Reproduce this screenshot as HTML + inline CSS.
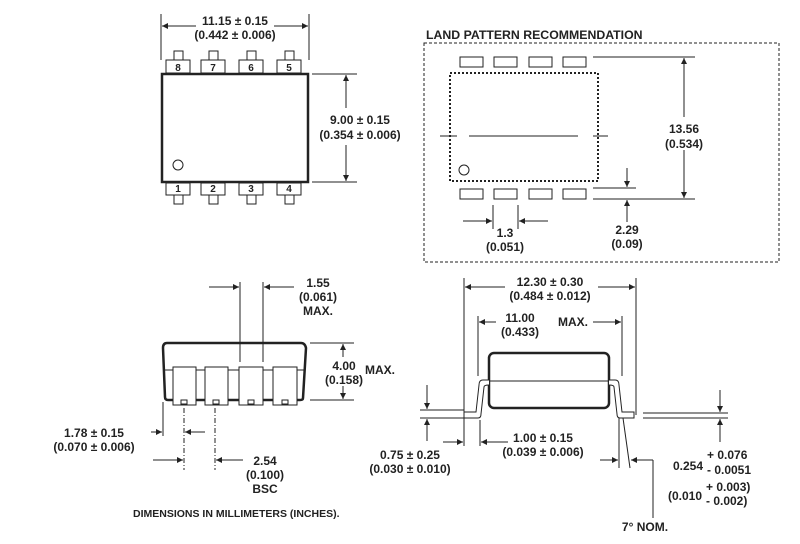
<!DOCTYPE html>
<html><head><style>
html,body{margin:0;padding:0;background:#fff}
svg{display:block}
text{font-family:"Liberation Sans",Arial,sans-serif;font-weight:bold;font-size:12px;fill:#222}
</style></head><body>
<svg width="800" height="544" viewBox="0 0 800 544" xmlns="http://www.w3.org/2000/svg">
<defs>
<marker id="a" viewBox="0 0 10 10" refX="10" refY="5" markerWidth="8" markerHeight="6" orient="auto" markerUnits="userSpaceOnUse"><path d="M0,0 L10,5 L0,10 z" fill="#222"/></marker>
</defs>
<g stroke="#222" fill="none" stroke-width="1">
<!-- TOP VIEW -->
<rect x="162" y="74" width="146" height="108" stroke-width="2.5"/>
<circle cx="178" cy="165" r="5"/>
<g fill="#fff">
<rect x="166" y="60" width="24" height="13"/><rect x="201" y="60" width="24" height="13"/><rect x="239" y="60" width="24" height="13"/><rect x="277" y="60" width="24" height="13"/>
<rect x="174" y="51" width="9" height="9"/><rect x="209" y="51" width="9" height="9"/><rect x="247" y="51" width="9" height="9"/><rect x="285" y="51" width="9" height="9"/>
<rect x="166" y="183" width="24" height="12"/><rect x="201" y="183" width="24" height="12"/><rect x="239" y="183" width="24" height="12"/><rect x="277" y="183" width="24" height="12"/>
<rect x="174" y="195" width="9" height="9"/><rect x="209" y="195" width="9" height="9"/><rect x="247" y="195" width="9" height="9"/><rect x="285" y="195" width="9" height="9"/>
</g>
<line x1="161" y1="14" x2="161" y2="60"/><line x1="309" y1="14" x2="309" y2="60"/>
<line x1="196" y1="26" x2="162" y2="26" marker-end="url(#a)"/><line x1="274" y1="26" x2="308" y2="26" marker-end="url(#a)"/>
<line x1="312" y1="74" x2="357" y2="74"/><line x1="312" y1="182" x2="357" y2="182"/>
<line x1="346" y1="108" x2="346" y2="75" marker-end="url(#a)"/><line x1="346" y1="145" x2="346" y2="181" marker-end="url(#a)"/>

<!-- LAND PATTERN -->
<rect x="424" y="43" width="355" height="219" stroke-dasharray="3,2"/>
<rect x="450" y="73" width="148" height="108" stroke-width="2" stroke-dasharray="2,2"/>
<rect x="460" y="57" width="23" height="10"/><rect x="494" y="57" width="23" height="10"/><rect x="529" y="57" width="23" height="10"/><rect x="563" y="57" width="23" height="10"/>
<rect x="460" y="189" width="23" height="10"/><rect x="494" y="189" width="23" height="10"/><rect x="529" y="189" width="23" height="10"/><rect x="563" y="189" width="23" height="10"/>
<line x1="440" y1="136" x2="457" y2="136"/><line x1="469" y1="136" x2="578" y2="136"/><line x1="593" y1="136" x2="608" y2="136"/>
<circle cx="464" cy="170" r="5"/>
<line x1="593" y1="57" x2="695" y2="57"/><line x1="593" y1="199" x2="695" y2="199"/><line x1="593" y1="188" x2="636" y2="188"/>
<line x1="684" y1="117" x2="684" y2="58" marker-end="url(#a)"/><line x1="684" y1="150" x2="684" y2="198" marker-end="url(#a)"/>
<line x1="627" y1="168" x2="627" y2="187" marker-end="url(#a)"/><line x1="627" y1="222" x2="627" y2="200" marker-end="url(#a)"/>
<line x1="493" y1="205" x2="493" y2="229"/><line x1="518" y1="205" x2="518" y2="229"/>
<line x1="463" y1="221" x2="492" y2="221" marker-end="url(#a)"/><line x1="548" y1="221" x2="519" y2="221" marker-end="url(#a)"/>

<!-- SIDE VIEW LEFT -->
<path d="M167,343 H301 Q305,343 306,348 L303,398 Q303,400 300,400 H168 Q165,400 165,397 L163,348 Q163,343 167,343 Z" stroke-width="2.5"/>
<line x1="164" y1="370" x2="304" y2="370"/>
<g fill="#fff">
<rect x="173" y="367" width="23" height="38"/><rect x="205" y="367" width="23" height="38"/><rect x="239" y="367" width="24" height="38"/><rect x="273" y="367" width="24" height="38"/>
</g>
<rect x="181" y="400" width="6" height="4"/><rect x="213" y="400" width="6" height="4"/><rect x="248" y="400" width="6" height="4"/><rect x="282" y="400" width="6" height="4"/>
<line x1="240" y1="282" x2="240" y2="362"/><line x1="263" y1="282" x2="263" y2="362"/>
<line x1="209" y1="287" x2="239" y2="287" marker-end="url(#a)"/><line x1="294" y1="287" x2="264" y2="287" marker-end="url(#a)"/>
<line x1="310" y1="343" x2="354" y2="343"/><line x1="310" y1="400" x2="354" y2="400"/>
<line x1="343" y1="357" x2="343" y2="344" marker-end="url(#a)"/><line x1="343" y1="386" x2="343" y2="399" marker-end="url(#a)"/>
<line x1="163" y1="402" x2="163" y2="436"/>
<line x1="184" y1="408" x2="184" y2="470" stroke-dasharray="5,2,1,2"/><line x1="215" y1="408" x2="215" y2="470" stroke-dasharray="5,2,1,2"/>
<line x1="151" y1="432" x2="162" y2="432" marker-end="url(#a)"/><line x1="205" y1="432" x2="185" y2="432" marker-end="url(#a)"/>
<line x1="153" y1="460" x2="183" y2="460" marker-end="url(#a)"/><line x1="243" y1="460" x2="216" y2="460" marker-end="url(#a)"/>

<!-- SIDE VIEW RIGHT -->
<rect x="489" y="353" width="120" height="55" rx="5" stroke-width="2.5"/>
<line x1="482" y1="381" x2="616" y2="381"/>
<path d="M489,380 L483,380 Q479,380 479,385 L476,412 L464,412 L464,418 L478,418 Q481,418 481,414 L484,387 Q484,385 489,385" fill="#fff"/>
<path d="M609,380 L615,380 Q619,380 619,385 L622,412 L634,412 L634,418 L620,418 Q617,418 617,414 L614,387 Q614,385 609,385" fill="#fff"/>
<line x1="420" y1="410" x2="464" y2="410"/><line x1="420" y1="418" x2="464" y2="418"/>
<line x1="643" y1="413" x2="728" y2="413"/><line x1="643" y1="418" x2="728" y2="418"/>
<line x1="427" y1="385" x2="427" y2="409" marker-end="url(#a)"/><line x1="427" y1="441" x2="427" y2="419" marker-end="url(#a)"/>
<line x1="720" y1="390" x2="720" y2="412" marker-end="url(#a)"/><line x1="720" y1="442" x2="720" y2="419" marker-end="url(#a)"/>
<line x1="464" y1="278" x2="464" y2="446"/><line x1="636" y1="278" x2="636" y2="415"/>
<line x1="505" y1="287" x2="465" y2="287" marker-end="url(#a)"/><line x1="598" y1="287" x2="635" y2="287" marker-end="url(#a)"/>
<line x1="478" y1="316" x2="478" y2="376"/><line x1="622" y1="316" x2="622" y2="376"/>
<line x1="496" y1="322" x2="479" y2="322" marker-end="url(#a)"/><line x1="593" y1="322" x2="621" y2="322" marker-end="url(#a)"/>
<line x1="480" y1="420" x2="480" y2="446"/>
<line x1="443" y1="442" x2="463" y2="442" marker-end="url(#a)"/><line x1="508" y1="442" x2="481" y2="442" marker-end="url(#a)"/>
<line x1="619" y1="418" x2="619" y2="468"/><line x1="623" y1="418" x2="630" y2="468"/>
<line x1="600" y1="460" x2="618" y2="460" marker-end="url(#a)"/><line x1="653" y1="460" x2="631" y2="460" marker-end="url(#a)"/>
<line x1="653" y1="460" x2="653" y2="518"/>
</g>

<g text-anchor="middle">
<text x="235" y="25">11.15 ± 0.15</text><text x="235" y="39">(0.442 ± 0.006)</text>
<text x="178" y="71" style="font-size:10px">8</text><text x="213" y="71" style="font-size:10px">7</text><text x="251" y="71" style="font-size:10px">6</text><text x="289" y="71" style="font-size:10px">5</text>
<text x="178" y="192" style="font-size:10px">1</text><text x="213" y="192" style="font-size:10px">2</text><text x="251" y="192" style="font-size:10px">3</text><text x="289" y="192" style="font-size:10px">4</text>
<text x="360" y="124">9.00 ± 0.15</text><text x="360" y="139">(0.354 ± 0.006)</text>
<text x="684" y="133">13.56</text><text x="684" y="148">(0.534)</text>
<text x="627" y="234">2.29</text><text x="627" y="248">(0.09)</text>
<text x="505" y="237">1.3</text><text x="505" y="251">(0.051)</text>
<text x="318" y="287">1.55</text><text x="318" y="301">(0.061)</text><text x="318" y="315">MAX.</text>
<text x="344" y="370">4.00</text><text x="344" y="384">(0.158)</text>
<text x="94" y="437">1.78 ± 0.15</text><text x="94" y="451">(0.070 ± 0.006)</text>
<text x="265" y="465">2.54</text><text x="265" y="479">(0.100)</text><text x="265" y="493">BSC</text>
<text x="550" y="286">12.30 ± 0.30</text><text x="550" y="300">(0.484 ± 0.012)</text>
<text x="520" y="322">11.00</text><text x="520" y="336">(0.433)</text>
<text x="410" y="459">0.75 ± 0.25</text><text x="410" y="473">(0.030 ± 0.010)</text>
<text x="543" y="442">1.00 ± 0.15</text><text x="543" y="456">(0.039 ± 0.006)</text>
<text x="645" y="531">7° NOM.</text>
</g>
<text x="426" y="39" style="font-size:12.3px">LAND PATTERN RECOMMENDATION</text>
<text x="365" y="374">MAX.</text>
<text x="558" y="326">MAX.</text>
<text x="133" y="517" style="font-size:10.5px">DIMENSIONS IN MILLIMETERS (INCHES).</text>
<text x="673" y="470">0.254</text><text x="707" y="459">+ 0.076</text><text x="707" y="474">- 0.0051</text>
<text x="668" y="500">(0.010</text><text x="706" y="491">+ 0.003)</text><text x="706" y="505">- 0.002)</text>
</svg>
</body></html>
